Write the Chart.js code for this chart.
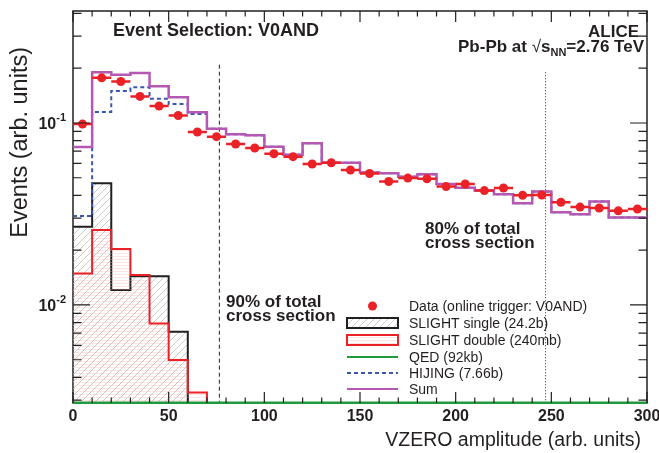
<!DOCTYPE html>
<html>
<head>
<meta charset="utf-8">
<script src="https://cdn.jsdelivr.net/npm/chart.js@4.4.1/dist/chart.umd.min.js"></script>
<style>
  html, body { margin: 0; padding: 0; background: #fff; }
</style>
</head>
<body>
<canvas id="c" width="659" height="453"></canvas>
<script>
// bin edges of the VZERO amplitude histograms
const binEdges = [0, 10, 20, 30, 40, 50, 60, 70, 80, 90, 100, 110, 120, 130, 140, 150,
  160, 170, 180, 190, 200, 210, 220, 230, 240, 250, 260, 270, 280, 290, 300];
// data points (bin centres)
const dataX = [5, 15, 25, 35, 45, 55, 65, 75, 85, 95, 105, 115, 125, 135, 145,
  155, 165, 175, 185, 195, 205, 215, 225, 235, 245, 255, 265, 275, 285, 295];
const dataY = [0.0986, 0.177, 0.169, 0.140, 0.124, 0.110, 0.0892, 0.0841, 0.0767, 0.0729,
  0.0678, 0.0653, 0.0595, 0.0605, 0.0552, 0.0528, 0.0477, 0.0498, 0.0494, 0.0448,
  0.0462, 0.0425, 0.0439, 0.0401, 0.0402, 0.0367, 0.0345, 0.0341, 0.0329, 0.0337];
const sumY = [0.0738, 0.190, 0.184, 0.188, 0.159, 0.1385, 0.1145, 0.0931, 0.0867, 0.0856,
  0.0741, 0.0670, 0.0773, 0.0605, 0.0605, 0.0535, 0.0530, 0.0507, 0.0523, 0.0462,
  0.0441, 0.0425, 0.0406, 0.0362, 0.0420, 0.0323, 0.0315, 0.0370, 0.0302, 0.0302];
const hijingY = [0.0308, 0.115, 0.150, 0.157, 0.136, 0.127, 0.112, 0.0931, 0.0867, 0.0856,
  0.0741, 0.0670, 0.0773, 0.0605, 0.0605, 0.0535, 0.0530, 0.0507, 0.0523, 0.0462,
  0.0441, 0.0425, 0.0406, 0.0362, 0.0420, 0.0323, 0.0315, 0.0370, 0.0302, 0.0302];
const slightSingleY = [0.0269, 0.0467, 0.0121, 0.0144, 0.0144, 0.00713, 0];
const slightDoubleY = [0.0149, 0.0258, 0.0203, 0.0146, 0.00792, 0.00499, 0.0033, 0];
const qedY = [0.0029, 0.0029, 0.0029, 0.0029, 0.0029, 0.0029, 0.0029, 0.0029, 0.0029, 0.0029,
  0.0029, 0.0029, 0.0029, 0.0029, 0.0029, 0.0029, 0.0029, 0.0029, 0.0029, 0.0029,
  0.0029, 0.0029, 0.0029, 0.0029, 0.0029, 0.0029, 0.0029, 0.0029, 0.0029, 0.0029];
// cross section cuts (x) and how high their lines reach (y)
const cutX = [76.5, 247];
const cutTop = [0.209, 0.19];
const xTicks = [0, 50, 100, 150, 200, 250, 300];
const yTicks = [0.01, 0.1];
const yTickExp = ['-2', '-1'];
const yMin = 0.002893, yMax = 0.4124;

const FONT = '"Liberation Sans", Arial, Helvetica, sans-serif';
const RED = '#ea2227', PURPLE = '#b458b3', BLUE = '#3a57ae', GREEN = '#1f9a3c', INK = '#231f20';

function histPoints(vals) {
  // left edges + closing right edge, zero bins pushed below the axis
  const pts = vals.map((v, i) => ({ x: binEdges[i], y: v > 0 ? v : 1e-4 }));
  const last = vals[vals.length - 1];
  pts.push({ x: binEdges[vals.length], y: last > 0 ? last : 1e-4 });
  return pts;
}

function hatchPattern() {
  const c = document.createElement('canvas');
  c.width = 7; c.height = 7;
  const g = c.getContext('2d');
  g.strokeStyle = '#b4b4b4';
  g.lineWidth = 0.7;
  g.beginPath();
  g.moveTo(0, 7); g.lineTo(7, 0);
  g.moveTo(-1, 1); g.lineTo(1, -1);
  g.moveTo(6, 8); g.lineTo(8, 6);
  g.stroke();
  return g.createPattern(c, 'repeat');
}

function stripePattern() {
  const c = document.createElement('canvas');
  c.width = 4; c.height = 3;
  const g = c.getContext('2d');
  g.fillStyle = 'rgba(244,175,165,0.32)';
  g.fillRect(0, 1, 4, 1);
  return g.createPattern(c, 'repeat');
}

const hatch = hatchPattern();
const stripes = stripePattern();

function txt(ctx, s, x, y, size, weight, align) {
  ctx.font = weight + ' ' + size + 'px ' + FONT;
  ctx.textAlign = align || 'left';
  ctx.textBaseline = 'alphabetic';
  ctx.fillText(s, x, y);
  return ctx.measureText(s).width;
}

const decor = {
  id: 'decor',
  beforeDatasetsDraw(chart) {
    const { ctx, chartArea: a } = chart;
    ctx.save();
    ctx.strokeStyle = INK;
    ctx.lineWidth = 1.5;
    ctx.strokeRect(a.left, a.top, a.right - a.left, a.bottom - a.top);
    ctx.restore();
  },
  beforeDatasetDraw(chart, args) {
    if (args.index !== 0) return;
    // horizontal error bars of the data points (half a bin)
    const { ctx } = chart;
    const xs = chart.scales.x, ys = chart.scales.y;
    const half = (binEdges[1] - binEdges[0]) / 2;
    ctx.save();
    ctx.strokeStyle = RED;
    ctx.lineWidth = 2.5;
    ctx.beginPath();
    dataX.forEach((x, i) => {
      const py = ys.getPixelForValue(dataY[i]);
      ctx.moveTo(xs.getPixelForValue(x - half), py);
      ctx.lineTo(xs.getPixelForValue(x + half), py);
    });
    ctx.stroke();
    ctx.restore();
  },
  afterDatasetsDraw(chart) {
    const { ctx, chartArea: a } = chart;
    const xs = chart.scales.x, ys = chart.scales.y;
    ctx.save();
    ctx.strokeStyle = INK;
    ctx.fillStyle = INK;
    ctx.lineWidth = 1.2;
    ctx.beginPath();
    // x ticks, bottom and top, pointing inwards
    binEdges.forEach(v => {
      const px = xs.getPixelForValue(v);
      const len = xTicks.includes(v) ? 11 : 5.5;
      ctx.moveTo(px, a.bottom); ctx.lineTo(px, a.bottom - len);
      ctx.moveTo(px, a.top); ctx.lineTo(px, a.top + len);
    });
    // y ticks, left and right
    [0.001, 0.01, 0.1].forEach(d => {
      for (let k = 1; k <= 9; k++) {
        const v = k * d;
        if (v < yMin || v > yMax) continue;
        const py = ys.getPixelForValue(v);
        const len = k === 1 ? 17 : 8.5;
        ctx.moveTo(a.left, py); ctx.lineTo(a.left + len, py);
        ctx.moveTo(a.right, py); ctx.lineTo(a.right - len, py);
      }
    });
    ctx.stroke();

    // tick labels
    xTicks.forEach(v => txt(ctx, String(v), xs.getPixelForValue(v), a.bottom + 18, 16, 'bold', 'center'));
    yTicks.forEach((v, i) => {
      const py = ys.getPixelForValue(v);
      ctx.font = 'bold 11px ' + FONT;
      const we = ctx.measureText(yTickExp[i]).width;
      txt(ctx, yTickExp[i], a.left - 7, py - 2, 11, 'bold', 'right');
      txt(ctx, '10', a.left - 7 - we, py + 6, 16, 'bold', 'right');
    });

    // axis titles
    txt(ctx, 'VZERO amplitude (arb. units)', a.right - 6, a.bottom + 43, 19.5, 'normal', 'right');
    ctx.save();
    ctx.translate(27, a.top + 36);
    ctx.rotate(-Math.PI / 2);
    txt(ctx, 'Events (arb. units)', 0, 0, 23.5, 'normal', 'right');
    ctx.restore();

    // annotations
    txt(ctx, 'Event Selection: V0AND', 113, 36, 18, 'bold');
    txt(ctx, 'ALICE', 639, 37, 17, 'bold', 'right');
    {
      // Pb-Pb at sqrt(s_NN) = 2.76 TeV, right aligned
      ctx.font = 'bold 17px ' + FONT;
      const w1 = ctx.measureText('Pb-Pb at ').width;
      const w3 = ctx.measureText('s').width;
      const w5 = ctx.measureText('=2.76 TeV').width;
      ctx.font = 'normal 17px ' + FONT;
      const w2 = ctx.measureText('\u221A').width;
      ctx.font = 'bold 11px ' + FONT;
      const w4 = ctx.measureText('NN').width;
      let x = 644 - (w1 + w2 + w3 + w4 + w5);
      const by = 52;
      x += txt(ctx, 'Pb-Pb at ', x, by, 17, 'bold');
      x += txt(ctx, '\u221A', x, by, 17, 'normal');
      x += txt(ctx, 's', x, by, 17, 'bold');
      x += txt(ctx, 'NN', x, by + 4, 11, 'bold');
      txt(ctx, '=2.76 TeV', x, by, 17, 'bold');
    }
    txt(ctx, '80% of total', 425, 234, 17, 'bold');
    txt(ctx, 'cross section', 425, 248, 17, 'bold');
    txt(ctx, '90% of total', 226, 307, 17, 'bold');
    txt(ctx, 'cross section', 226, 321, 17, 'bold');

    // legend
    const lx0 = 347, lx1 = 398, tx = 409;
    const rows = [306, 323, 340, 357, 373, 389];
    const labels = ['Data (online trigger: V0AND)', 'SLIGHT single (24.2b)', 'SLIGHT double (240mb)',
      'QED (92kb)', 'HIJING (7.66b)', 'Sum'];
    labels.forEach((s, i) => txt(ctx, s, tx, rows[i] + 5, 14, 'normal'));
    ctx.fillStyle = RED;
    ctx.beginPath(); ctx.arc((lx0 + lx1) / 2, rows[0], 4.5, 0, Math.PI * 2); ctx.fill();
    ctx.fillStyle = hatch; ctx.fillRect(lx0, rows[1] - 5, lx1 - lx0, 10);
    ctx.strokeStyle = INK; ctx.lineWidth = 2; ctx.strokeRect(lx0, rows[1] - 5, lx1 - lx0, 10);
    ctx.fillStyle = stripes; ctx.fillRect(lx0, rows[2] - 5, lx1 - lx0, 10);
    ctx.strokeStyle = RED; ctx.strokeRect(lx0, rows[2] - 5, lx1 - lx0, 10);
    const line = (y, col, dash) => {
      ctx.strokeStyle = col; ctx.lineWidth = 2; ctx.setLineDash(dash);
      ctx.beginPath(); ctx.moveTo(lx0, y); ctx.lineTo(lx1, y); ctx.stroke();
    };
    line(rows[3], GREEN, []);
    line(rows[4], BLUE, [4, 3]);
    line(rows[5], PURPLE, []);
    ctx.restore();
  }
};

const histStyle = { pointRadius: 0, stepped: 'before', borderWidth: 2, tension: 0 };

new Chart(document.getElementById('c'), {
  type: 'line',
  data: {
    datasets: [
      { label: 'Data', data: dataX.map((x, i) => ({ x, y: dataY[i] })), showLine: false,
        pointRadius: 4.5, pointBackgroundColor: RED, pointBorderWidth: 0, borderColor: RED, order: 0 },
      { label: 'QED', data: histPoints(qedY), ...histStyle, borderColor: GREEN, borderWidth: 2.5, clip: 3, order: -1 },
      { label: 'Sum', data: histPoints(sumY), ...histStyle, borderColor: PURPLE, borderWidth: 2.5, order: 1 },
      { label: 'HIJING', data: histPoints(hijingY), ...histStyle, borderColor: BLUE, borderDash: [4, 3], order: 2 },
      { label: 'SLIGHT double', data: histPoints(slightDoubleY), ...histStyle, borderColor: RED,
        backgroundColor: stripes, fill: 'start', order: 3 },
      { label: 'SLIGHT single', data: histPoints(slightSingleY), ...histStyle, borderColor: INK,
        backgroundColor: hatch, fill: 'start', order: 4 },
      { label: 'cut90', data: [{ x: cutX[0], y: cutTop[0] }, { x: cutX[0], y: yMin }], pointRadius: 0,
        borderColor: INK, borderWidth: 1, borderDash: [4, 3], order: 5 },
      { label: 'cut80', data: [{ x: cutX[1], y: cutTop[1] }, { x: cutX[1], y: yMin }], pointRadius: 0,
        borderColor: INK, borderWidth: 1, borderDash: [1, 2], order: 5 }
    ]
  },
  options: {
    responsive: false,
    animation: false,
    layout: { padding: { left: 73, right: 12, top: 11, bottom: 50 } },
    scales: {
      x: { type: 'linear', min: 0, max: 300, display: false },
      y: { type: 'logarithmic', min: yMin, max: yMax, display: false }
    },
    plugins: { legend: { display: false }, tooltip: { enabled: false } }
  },
  plugins: [decor]
});
</script>
</body>
</html>
